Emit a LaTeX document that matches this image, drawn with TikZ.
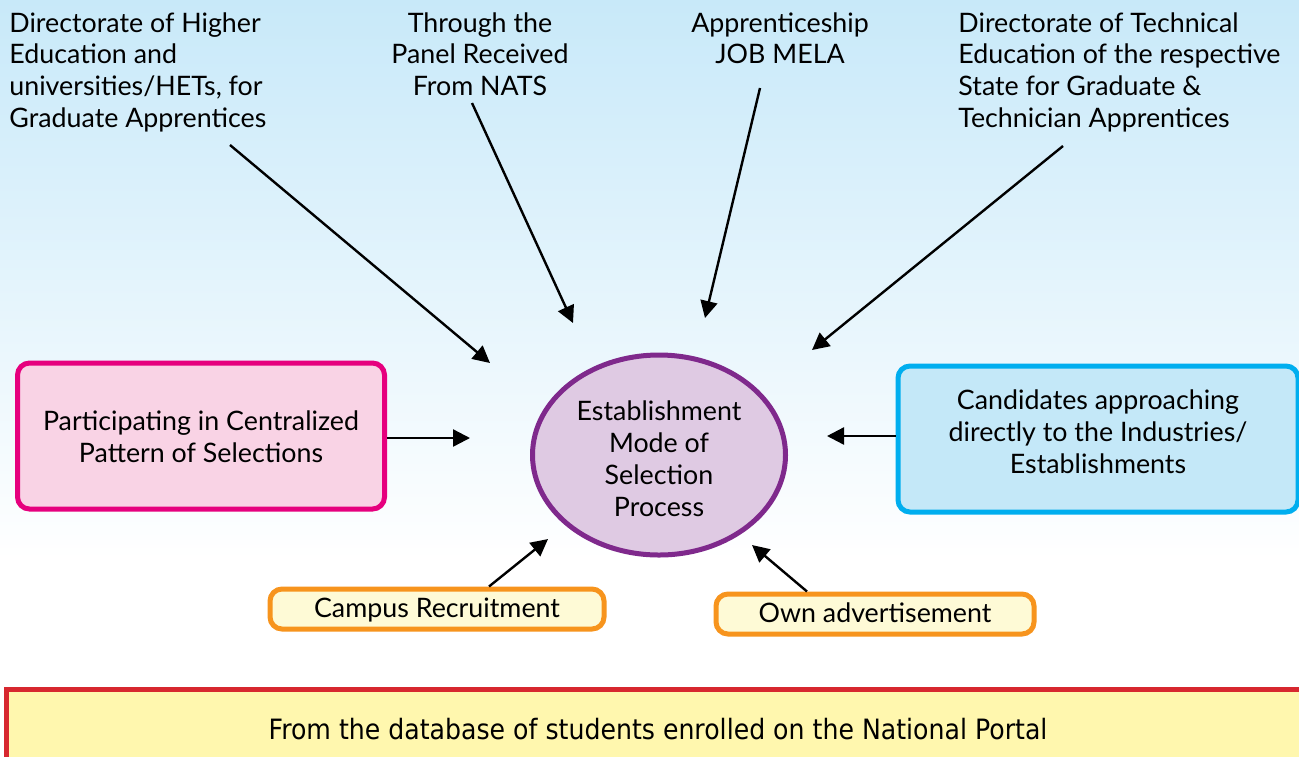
\documentclass[tikz,border=0pt]{standalone}
\usepackage{fontspec}
\setmainfont{Lato}
\newfontfamily\condfont[FakeStretch=0.9]{DejaVu Sans}
\usetikzlibrary{shapes.geometric,arrows.meta}

\definecolor{skytop}{RGB}{200,233,249}
\definecolor{pinkline}{RGB}{230,0,126}
\definecolor{pinkfill}{RGB}{249,211,229}
\definecolor{blueline}{RGB}{0,174,239}
\definecolor{bluefill}{RGB}{196,232,248}
\definecolor{purpleline}{RGB}{127,41,140}
\definecolor{purplefill}{RGB}{223,202,227}
\definecolor{orangeline}{RGB}{247,148,29}
\definecolor{creamfill}{RGB}{254,250,214}
\definecolor{redline}{RGB}{215,40,47}
\definecolor{yellowfill}{RGB}{255,247,174}

\newcommand{\lineas}[2][0pt]{\raisebox{#1}[\height][\depth]{\begin{tabular}{@{}c@{}}#2\end{tabular}}}

\tikzset{
  txt/.style={font=\fontsize{13.4}{15.9}\selectfont, inner sep=0pt},
  bigbox/.style={txt, rectangle, rounded corners=6pt, line width=2.5pt, align=center},
  smallbox/.style={bigbox, draw=orangeline, fill=creamfill, minimum width=167pt, minimum height=20pt,
    text height=10.5pt, text depth=2.5pt},
  flecha/.style={line width=1.2pt, -{Triangle[length=8.5pt,width=8.5pt]}}
}

\begin{document}
\begin{tikzpicture}[x=0.5pt,y=-0.5pt]
\useasboundingbox (0,0) rectangle (1299,756);
\clip (0,0) rectangle (1299,756);

% Fondo
\fill[white] (0,0) rectangle (1299,756);
\shade[top color=skytop, bottom color=white] (0,0) rectangle (1299,560);

% Textos superiores
\node[txt, anchor=north west, align=left] (hei) at (9,12)
  {Directorate of Higher\\Education and\\universities/HETs, for\\Graduate Apprentices};
\node[txt, anchor=north, align=center] (nats) at (480,12)
  {Through the\\Panel Received\\From NATS};
\node[txt, anchor=north, align=center] (mela) at (780,12)
  {Apprenticeship\\JOB MELA};
\node[txt, anchor=north west, align=left] (tech) at (958,12)
  {Directorate of Technical\\Education of the respective\\State for Graduate \&\\Technician Apprentices};

% Centro
\node[txt, ellipse, draw=purpleline, fill=purplefill, line width=2.5pt,
  minimum width=126.5pt, minimum height=100pt] (mode) at (659,455)
  {\lineas[-3.5pt]{Establishment\\Mode of\\Selection\\Process}};

% Cajas laterales
\node[bigbox, draw=pinkline, fill=pinkfill, minimum width=183.5pt, minimum height=73pt] (pcs) at (201,436)
  {\lineas[-2pt]{Participating in Centralized\\Pattern of Selections}};
\node[bigbox, draw=blueline, fill=bluefill, minimum width=200pt, minimum height=73pt] (cand) at (1098,439)
  {\lineas[2pt]{Candidates approaching\\directly to the Industries/\\Establishments}};

% Cajas inferiores
\node[smallbox] (campus) at (437,609) {Campus Recruitment};
\node[smallbox, minimum width=159pt] (adv) at (875,614) {Own advertisement};
\node[rectangle, draw=redline, fill=yellowfill, line width=2.5pt, inner sep=0pt,
  minimum width=651.5pt, minimum height=40pt,
  font=\condfont\fontsize{14}{15}\selectfont] (portal) at (658,729)
  {From the database of students enrolled on the National Portal};

% Extremos de flechas
\coordinate (hei-s) at (230,145);   \coordinate (hei-e) at (490,363);
\coordinate (nats-s) at (472,103);  \coordinate (nats-e) at (573,323);
\coordinate (mela-s) at (760,88);   \coordinate (mela-e) at (705,318);
\coordinate (tech-s) at (1063,146); \coordinate (tech-e) at (812,350);
\coordinate (pcs-e) at (470,438);
\coordinate (cand-e) at (827,436);
\coordinate (campus-e) at (548,539);
\coordinate (adv-e) at (752,545);

% Flechas
\draw[flecha] (hei-s) -- (hei-e);
\draw[flecha] (nats-s) -- (nats-e);
\draw[flecha] (mela-s) -- (mela-e);
\draw[flecha] (tech-s) -- (tech-e);
\draw[flecha] (pcs.east |- pcs-e) -- (pcs-e);
\draw[flecha] (cand.west |- cand-e) -- (cand-e);
\draw[flecha] ([xshift=26pt]campus.north) -- (campus-e);
\draw[flecha] ([xshift=-34pt]adv.north) -- (adv-e);
\end{tikzpicture}
\end{document}
